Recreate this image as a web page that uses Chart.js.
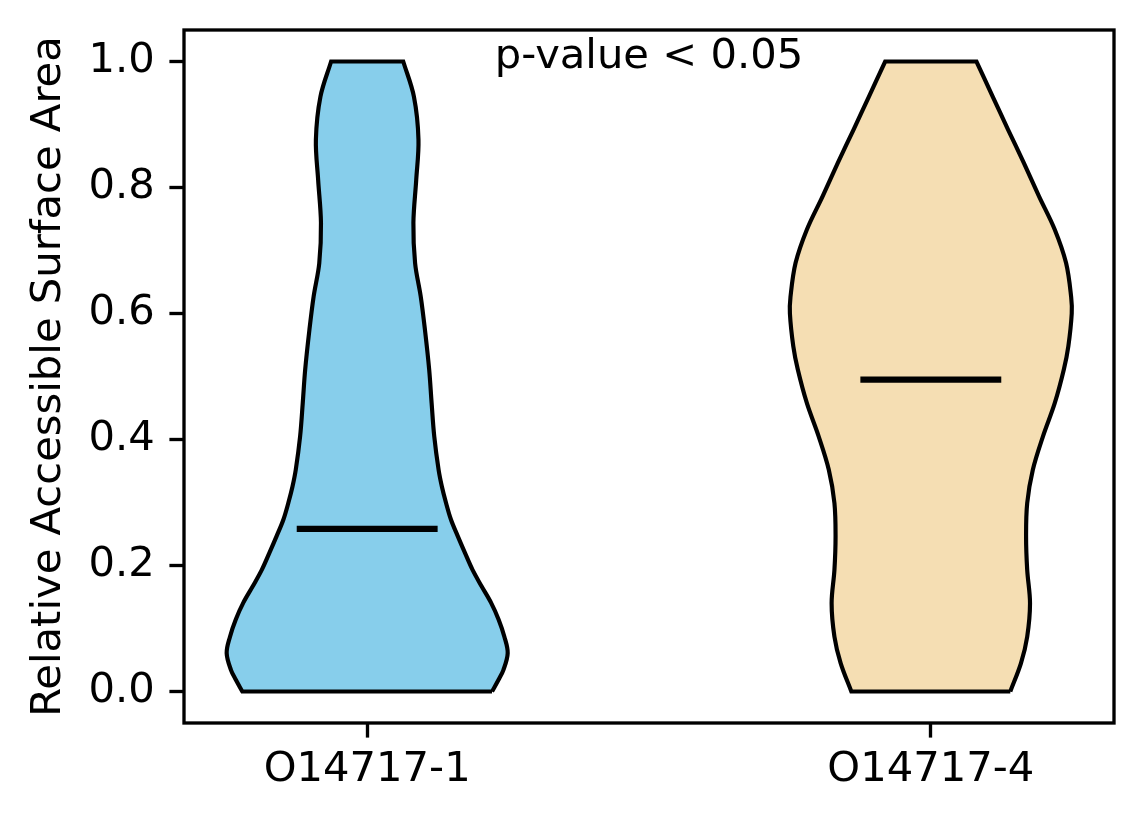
<!DOCTYPE html>
<html>
<head>
<meta charset="utf-8">
<script src="https://cdn.jsdelivr.net/npm/chart.js@4.4.1/dist/chart.umd.min.js"></script>
<style>
  body { margin: 0; background: #fff; }
  #wrap { width: 1144px; height: 824px; }
</style>
</head>
<body>
<div id="wrap"><canvas id="chart1"></canvas></div>
<script>
// groups and their x positions
const groups = ['O14717-1', 'O14717-4'];
const positions = [1, 2];
const yTicks = [0, 0.2, 0.4, 0.6, 0.8, 1.0];

// violin outlines: level (RSA) and half width (x units)
const levels1 = [0, 0.019, 0.034, 0.061, 0.087, 0.114, 0.141, 0.167, 0.193, 0.22, 0.247, 0.273, 0.3, 0.325, 0.352, 0.405, 0.458, 0.511, 0.574, 0.627, 0.68, 0.744, 0.812, 0.876, 0.944, 1.0];
const half1   = [0.2215, 0.2333, 0.2416, 0.2493, 0.2434, 0.2333, 0.2197, 0.203, 0.187, 0.1735, 0.1605, 0.1486, 0.1397, 0.1326, 0.1267, 0.119, 0.1143, 0.110, 0.1025, 0.095, 0.085, 0.082, 0.087, 0.091, 0.083, 0.064];

const levels2 = [0, 0.045, 0.087, 0.14, 0.193, 0.246, 0.299, 0.352, 0.405, 0.458, 0.511, 0.548, 0.6, 0.626, 0.68, 0.733, 0.786, 0.839, 0.892, 0.944, 1.0];
const half2   = [0.141, 0.160, 0.171, 0.176, 0.171, 0.169, 0.171, 0.181, 0.199, 0.220, 0.236, 0.244, 0.250, 0.249, 0.240, 0.220, 0.192, 0.165, 0.137, 0.110, 0.081];

// median of each group
const medians = [0.258, 0.495];

const colors = ['#87CEEB', '#F5DEB3'];

// closed outline: right side up, left side down; corner points doubled so the
// spline keeps them sharp
function outline(center, levels, half) {
  const n = levels.length;
  const pts = [];
  for (let i = 0; i < n; i++) pts.push({x: center + half[i], y: levels[i]});
  pts.push({x: center + half[n - 1], y: levels[n - 1]});
  for (let i = n - 1; i >= 0; i--) {
    pts.push({x: center - half[i], y: levels[i]});
    if (i === n - 1) pts.push({x: center - half[i], y: levels[i]});
  }
  pts.push({x: center - half[0], y: levels[0]});
  pts.push({x: center + half[0], y: levels[0]});
  return pts;
}

function medianLine(center, m) {
  return [{x: center - 0.125, y: m}, {x: center + 0.125, y: m}];
}

const fontFam = '"DejaVu Sans", sans-serif';
const fs = 41.7;

const framePlugin = {
  id: 'frame',
  afterDraw(chart) {
    const {ctx, chartArea: a, scales} = chart;
    ctx.save();
    ctx.strokeStyle = '#000';
    ctx.lineWidth = 3.33;
    ctx.strokeRect(a.left, a.top, a.right - a.left, a.bottom - a.top);
    ctx.fillStyle = '#000';
    ctx.font = fs + 'px ' + fontFam;
    ctx.textAlign = 'center';
    ctx.textBaseline = 'alphabetic';
    ctx.fillText('p-value < 0.05', scales.x.getPixelForValue(1.5), scales.y.getPixelForValue(1.0) + 6);
    ctx.restore();
  }
};

const datasets = [];

medians.forEach((m, i) => {
  datasets.push({
    data: medianLine(positions[i], m), showLine: true, fill: false, order: 0,
    borderColor: '#000', borderWidth: 6.25, pointRadius: 0, borderCapStyle: 'butt'
  });
});

[[levels1, half1], [levels2, half2]].forEach((v, i) => {
  datasets.push({
    data: outline(positions[i], v[0], v[1]), backgroundColor: colors[i], order: 1,
    showLine: true, fill: 'shape', borderColor: '#000', borderWidth: 4.17,
    pointRadius: 0, tension: 0.35, borderJoinStyle: 'miter'
  });
});

Chart.defaults.font.family = fontFam;
Chart.defaults.font.size = fs;
Chart.defaults.color = '#000';

new Chart(document.getElementById('chart1'), {
  type: 'scatter',
  data: {datasets: datasets},
  options: {
    responsive: true,
    maintainAspectRatio: false,
    animation: false,
    layout: {padding: {left: 0, right: 30, top: 30, bottom: 0}},
    plugins: {legend: {display: false}, tooltip: {enabled: false}},
    scales: {
      x: {
        type: 'linear', min: 0.675, max: 2.325,
        afterBuildTicks: s => { s.ticks = positions.map(v => ({value: v})); },
        afterFit: s => { s.height = 101; s.paddingLeft = 0; s.paddingRight = 0; },
        ticks: {
          padding: 8, maxRotation: 0,
          callback: v => groups[positions.indexOf(v)]
        },
        grid: {drawOnChartArea: false, drawTicks: true, tickLength: 14.6, tickWidth: 3.33, tickColor: '#000'},
        border: {display: false}
      },
      y: {
        type: 'linear', min: -0.05, max: 1.05,
        afterBuildTicks: s => { s.ticks = yTicks.map(v => ({value: v})); },
        afterFit: s => { s.width = 184; s.paddingTop = 0; s.paddingBottom = 0; },
        ticks: {padding: 14.6, callback: v => v.toFixed(1)},
        grid: {drawOnChartArea: false, drawTicks: true, tickLength: 14.6, tickWidth: 3.33, tickColor: '#000'},
        border: {display: false},
        title: {display: true, text: 'Relative Accessible Surface Area', padding: {top: 24, bottom: 0}}
      }
    }
  },
  plugins: [framePlugin]
});
</script>
</body>
</html>
